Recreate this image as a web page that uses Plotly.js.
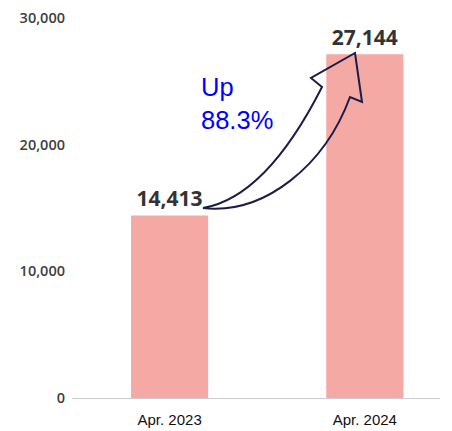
<!DOCTYPE html>
<html>
<head>
<meta charset="utf-8">
<script src="https://cdn.plot.ly/plotly-3.0.1.min.js"></script>
<style>html,body{margin:0;padding:0;background:#fff;}#chart{width:452px;height:431px;}</style>
</head>
<body>
<div id="chart"></div>
<script>
const categories = ["Apr. 2023", "Apr. 2024"];
const values = [14413, 27144];
const valueLabels = ["14,413", "27,144"];
const yTickVals = [0, 10000, 20000, 30000];
const yTickText = ["0", "10,000", "20,000", "30,000"];
const growthText = "Up<br>88.3%";

const W = 452, H = 431;
const M = {l: 72, r: 12, t: 18, b: 33};
const xRange = [-0.5, 1.385];
const yRange = [0, 30000];
const pw = W - M.l - M.r, ph = H - M.t - M.b;
// convert page pixel to data coordinates (for the decorative arrow)
function P(px, py) {
  const x = xRange[0] + (px - M.l) / pw * (xRange[1] - xRange[0]);
  const y = yRange[0] + (H - M.b - py) / ph * (yRange[1] - yRange[0]);
  return x.toFixed(4) + "," + y.toFixed(1);
}
const arrowPath =
  "M " + P(203, 208) +
  " C " + P(250, 200) + " " + P(290, 150) + " " + P(322, 87) +
  " L " + P(311, 78) +
  " L " + P(355, 53) +
  " L " + P(362, 102) +
  " L " + P(350, 97) +
  " C " + P(325, 165) + " " + P(265, 215) + " " + P(203, 208) + " Z";

const xIdx = categories.map((_, i) => i);

const trace = {
  type: "bar",
  x: xIdx,
  y: values,
  width: 0.395,
  marker: {color: "#f5a9a5"},
  text: valueLabels,
  textposition: "outside",
  textfont: {family: "Open Sans, sans-serif", size: 21, color: "#333333", weight: 700},
  cliponaxis: false,
  hoverinfo: "none"
};

const layout = {
  width: W, height: H,
  margin: M,
  paper_bgcolor: "#ffffff",
  plot_bgcolor: "#ffffff",
  showlegend: false,
  xaxis: {
    range: xRange,
    tickvals: xIdx,
    ticktext: categories,
    showgrid: false,
    zeroline: false,
    showline: true,
    linecolor: "#cccccc",
    linewidth: 1,
    ticks: "",
    ticklabelstandoff: 8,
    tickfont: {family: "Liberation Sans, Arial, sans-serif", size: 15, color: "#111111"}
  },
  yaxis: {
    range: yRange,
    tickvals: yTickVals,
    ticktext: yTickText,
    showgrid: false,
    zeroline: false,
    showline: false,
    ticks: "",
    ticklabelstandoff: 6,
    tickfont: {family: "Open Sans, sans-serif", size: 14.5, color: "#404040", weight: 600}
  },
  shapes: [{
    type: "path",
    xref: "x", yref: "y",
    path: arrowPath,
    line: {color: "#1c1c4a", width: 2},
    fillcolor: "rgba(0,0,0,0)",
    layer: "above"
  }],
  annotations: [{
    xref: "paper", yref: "paper",
    x: (199 - M.l) / pw, y: (H - M.b - 71) / ph,
    xanchor: "left", yanchor: "top",
    align: "left",
    showarrow: false,
    text: growthText,
    font: {family: "Liberation Sans, Arial, sans-serif", size: 25.5, color: "#0000ff"}
  }]
};

Plotly.newPlot("chart", [trace], layout, {displayModeBar: false, staticPlot: true});
</script>
</body>
</html>
